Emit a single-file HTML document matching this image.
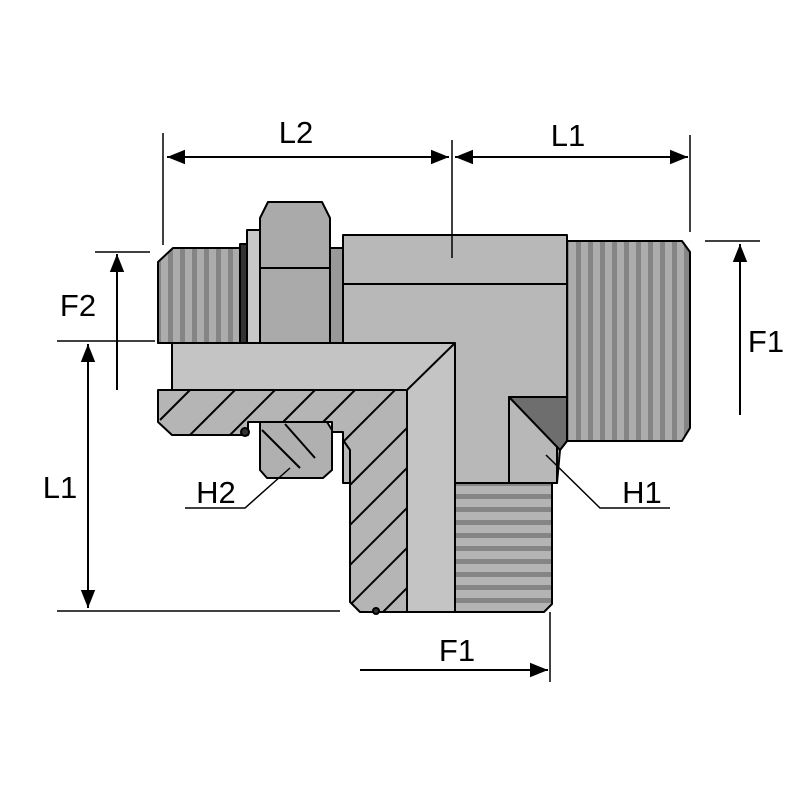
<!DOCTYPE html>
<html><head><style>html,body{margin:0;padding:0;background:#fff}svg{display:block}</style></head>
<body>
<svg width="800" height="800" viewBox="0 0 800 800" xmlns="http://www.w3.org/2000/svg">
<defs>
<pattern id="vstr" width="12" height="10" patternUnits="userSpaceOnUse">
<rect width="12" height="10" fill="#acacac"/><rect x="0" width="5" height="10" fill="#858585"/>
</pattern>
<pattern id="hstr" width="10" height="13" patternUnits="userSpaceOnUse">
<rect width="10" height="13" fill="#b4b4b4"/><rect y="0" width="10" height="5" fill="#858585"/>
</pattern>
<clipPath id="hatchH"><polygon points="158,390 407,390 407,612 360,612 350,602 350,450 343,440 343,432 332,432 332,422 248,422 248,435 172,435 158,422"/></clipPath>
<marker id="ar" viewBox="0 0 10 10" refX="10" refY="5" markerWidth="9" markerHeight="9" orient="auto-start-reverse"><path d="M0,1 L10,5 L0,9 z" fill="#000"/></marker>
</defs>
<g stroke="#000" stroke-width="2" stroke-linejoin="round">
<polygon points="173,248 240,248 240,343 158,343 158,262" fill="url(#vstr)"/>
<rect x="240" y="244" width="7" height="99" fill="#333"/>
<rect x="247" y="230" width="13" height="113" fill="#c8c8c8"/>
<polygon points="268,202 322,202 330,218 330,343 260,343 260,218" fill="#aaa"/>
<line x1="260" y1="268" x2="330" y2="268"/>
<rect x="330" y="248" width="13" height="95" fill="#999"/>
<polygon points="567,241 682,241 690,252 690,428 682,441 567,441" fill="url(#vstr)"/>
<polygon points="343,235 567,235 567,441 560,450 557,483 343,483" fill="#b8b8b8"/>
<line x1="343" y1="284" x2="567" y2="284"/>
<polygon points="455,483 552,483 552,604 544,612 455,612" fill="url(#hstr)"/>
<rect x="509" y="397" width="48" height="86" fill="#b8b8b8"/>
<polygon points="509,397 567,397 567,441 560,450" fill="#6e6e6e"/>
<polygon points="158,343 455,343 455,612 407,612 407,390 172,390 172,343" fill="#c4c4c4"/>
<line x1="407" y1="390" x2="455" y2="343"/>
<polygon points="158,390 407,390 407,612 360,612 350,602 350,450 343,440 343,432 332,432 332,422 248,422 248,435 172,435 158,422" fill="#b5b5b5"/>
<g clip-path="url(#hatchH)" stroke-width="2">
<line x1="160" y1="420" x2="190" y2="390"/><line x1="190" y1="435" x2="235" y2="390"/><line x1="230" y1="435" x2="275" y2="390"/>
<line x1="270" y1="435" x2="315" y2="390"/><line x1="310" y1="435" x2="355" y2="390"/><line x1="340" y1="445" x2="395" y2="390"/>
<line x1="345" y1="490" x2="407" y2="428"/><line x1="345" y1="530" x2="407" y2="468"/><line x1="345" y1="570" x2="407" y2="508"/>
<line x1="345" y1="610" x2="407" y2="548"/><line x1="370" y1="625" x2="407" y2="588"/>
</g>
<polygon points="260,422 327,422 332,430 332,470 323,478 267,478 260,470" fill="#b0b0b0"/>
<line x1="262" y1="430" x2="300" y2="468"/><line x1="285" y1="424" x2="315" y2="458"/>
<circle cx="245" cy="432" r="4" fill="#333"/>
<circle cx="376" cy="611" r="3" fill="#333"/>
</g>
<g stroke="#000" stroke-width="1.5" fill="none">
<line x1="163" y1="133" x2="163" y2="245"/>
<line x1="452" y1="140" x2="452" y2="258"/>
<line x1="690" y1="135" x2="690" y2="232"/>
<line x1="167" y1="157" x2="449" y2="157" stroke-width="2" marker-start="url(#ar)" marker-end="url(#ar)"/>
<line x1="455" y1="157" x2="688" y2="157" stroke-width="2" marker-start="url(#ar)" marker-end="url(#ar)"/>
<line x1="95" y1="252" x2="150" y2="252"/>
<line x1="57" y1="341" x2="155" y2="341"/>
<line x1="117" y1="390" x2="117" y2="254" stroke-width="2" marker-end="url(#ar)"/>
<line x1="88" y1="344" x2="88" y2="608" stroke-width="2" marker-start="url(#ar)" marker-end="url(#ar)"/>
<line x1="57" y1="611" x2="340" y2="611"/>
<line x1="705" y1="241" x2="760" y2="241"/>
<line x1="740" y1="415" x2="740" y2="244" stroke-width="2" marker-end="url(#ar)"/>
<line x1="550" y1="612" x2="550" y2="682"/>
<line x1="360" y1="670" x2="548" y2="670" stroke-width="2" marker-end="url(#ar)"/>
<polyline points="185,508 245,508 290,468"/>
<polyline points="670,508 600,508 546,455"/>
</g>
<g font-family="Liberation Sans, sans-serif" font-size="31" fill="#000">
<text x="296" y="143" text-anchor="middle">L2</text>
<text x="568" y="146" text-anchor="middle">L1</text>
<text x="78" y="316" text-anchor="middle">F2</text>
<text x="766" y="352" text-anchor="middle">F1</text>
<text x="60" y="498" text-anchor="middle">L1</text>
<text x="216" y="503" text-anchor="middle">H2</text>
<text x="642" y="503" text-anchor="middle">H1</text>
<text x="457" y="661" text-anchor="middle">F1</text>
</g>
</svg>
</body></html>
